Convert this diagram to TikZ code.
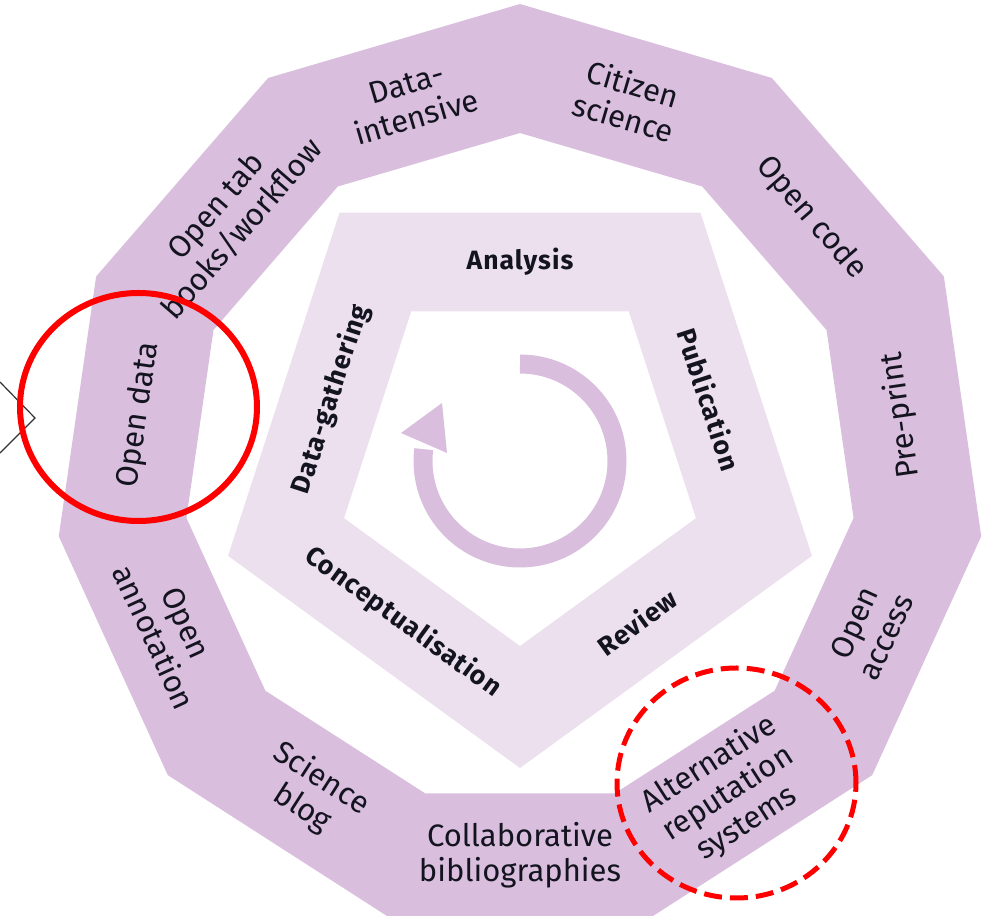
\documentclass[tikz,border=0pt]{standalone}
\usepackage{fontspec}
\setmainfont{Fira Sans}
\definecolor{ringc}{HTML}{D9BEDD}
\definecolor{pentc}{HTML}{ECE0EF}
\definecolor{txtc}{HTML}{141420}
\tikzset{
  ringlabel/.style={text=txtc, align=center, font=\fontsize{31}{35}\selectfont, inner sep=0pt},
  pentlabel/.style={text=txtc, font=\fontsize{26.5}{30}\selectfont\bfseries\addfontfeatures{LetterSpace=4}, inner sep=0pt},
  redmark/.style={draw=red, line width=6pt},
}
\begin{document}
\begin{tikzpicture}[x=1pt,y=1pt]
\useasboundingbox (0,0) rectangle (989,916);
% outer hendecagonal ring
\begin{scope}[shift={(520,446)}]
  \fill[ringc, even odd rule]
    (90:466) foreach \k in {1,...,10}{ -- ({90-\k*360/11}:466) } -- cycle
    (90:337) foreach \k in {1,...,10}{ -- ({90-\k*360/11}:337) } -- cycle;
  \node[ringlabel, rotate=-16.36] (citizen) at (73.64:385) {Citizen\\science};
  \node[ringlabel, rotate=-49.09] (code) at (40.91:385) {Open code};
  \node[ringlabel, rotate=98.18] (preprint) at (8.18:385) {Pre-print};
  \node[ringlabel, rotate=65.45] (access) at (-24.55:385) {Open\\access};
  \node[ringlabel, rotate=32.73] (altrep) at (-57.27:385) {Alternative\\reputation\\systems};
  \node[ringlabel] (biblio) at (-90:385) {Collaborative\\bibliographies};
  \node[ringlabel, rotate=-32.73] (blog) at (-122.73:385) {Science\\blog};
  \node[ringlabel, rotate=-65.45] (annot) at (-155.45:385) {Open\\annotation};
  \node[ringlabel, rotate=81.82] (opendata) at (171.82:385) {Open data};
  \node[ringlabel, rotate=49.09] (tab) at (139.09:385) {Open tab\\books/workflow};
  \node[ringlabel, rotate=16.36] (intensive) at (106.36:385) {Data-\\intensive};
\end{scope}
% inner pentagonal ring
\begin{scope}[shift={(520,455)}]
  \fill[pentc, even odd rule]
    (-90:307) -- (-18:307) -- (54:307) -- (126:307) -- (198:307) -- cycle
    (-90:185) -- (-18:185) -- (54:185) -- (126:185) -- (198:185) -- cycle;
  \node[pentlabel] (analysis) at (90:199) {Analysis};
  \node[pentlabel, rotate=-72] (publication) at (18:199) {Publication};
  \node[pentlabel, rotate=36] (review) at (-54:199) {Review};
  \node[pentlabel, rotate=-36] (concept) at (-126:199) {Conceptualisation};
  \node[pentlabel, rotate=72] (gathering) at (162:199) {Data-gathering};
  % circular arrow
  \draw[ringc, line width=19pt] (90:97) arc[start angle=90, end angle=-187, radius=97];
\end{scope}
\fill[ringc] (442,513) -- (401,483) -- (447,463) -- cycle;
% left chevron
\draw[black!80, line width=1.2pt] (0,534) -- (35,498) -- (0,463);
% red highlight circles
\draw[redmark] (138.5,509) ellipse[x radius=118.5, y radius=114];
\draw[redmark, line width=5pt, dash pattern=on 18pt off 8pt] (736.5,133) ellipse[x radius=119.5, y radius=115];
\end{tikzpicture}
\end{document}
